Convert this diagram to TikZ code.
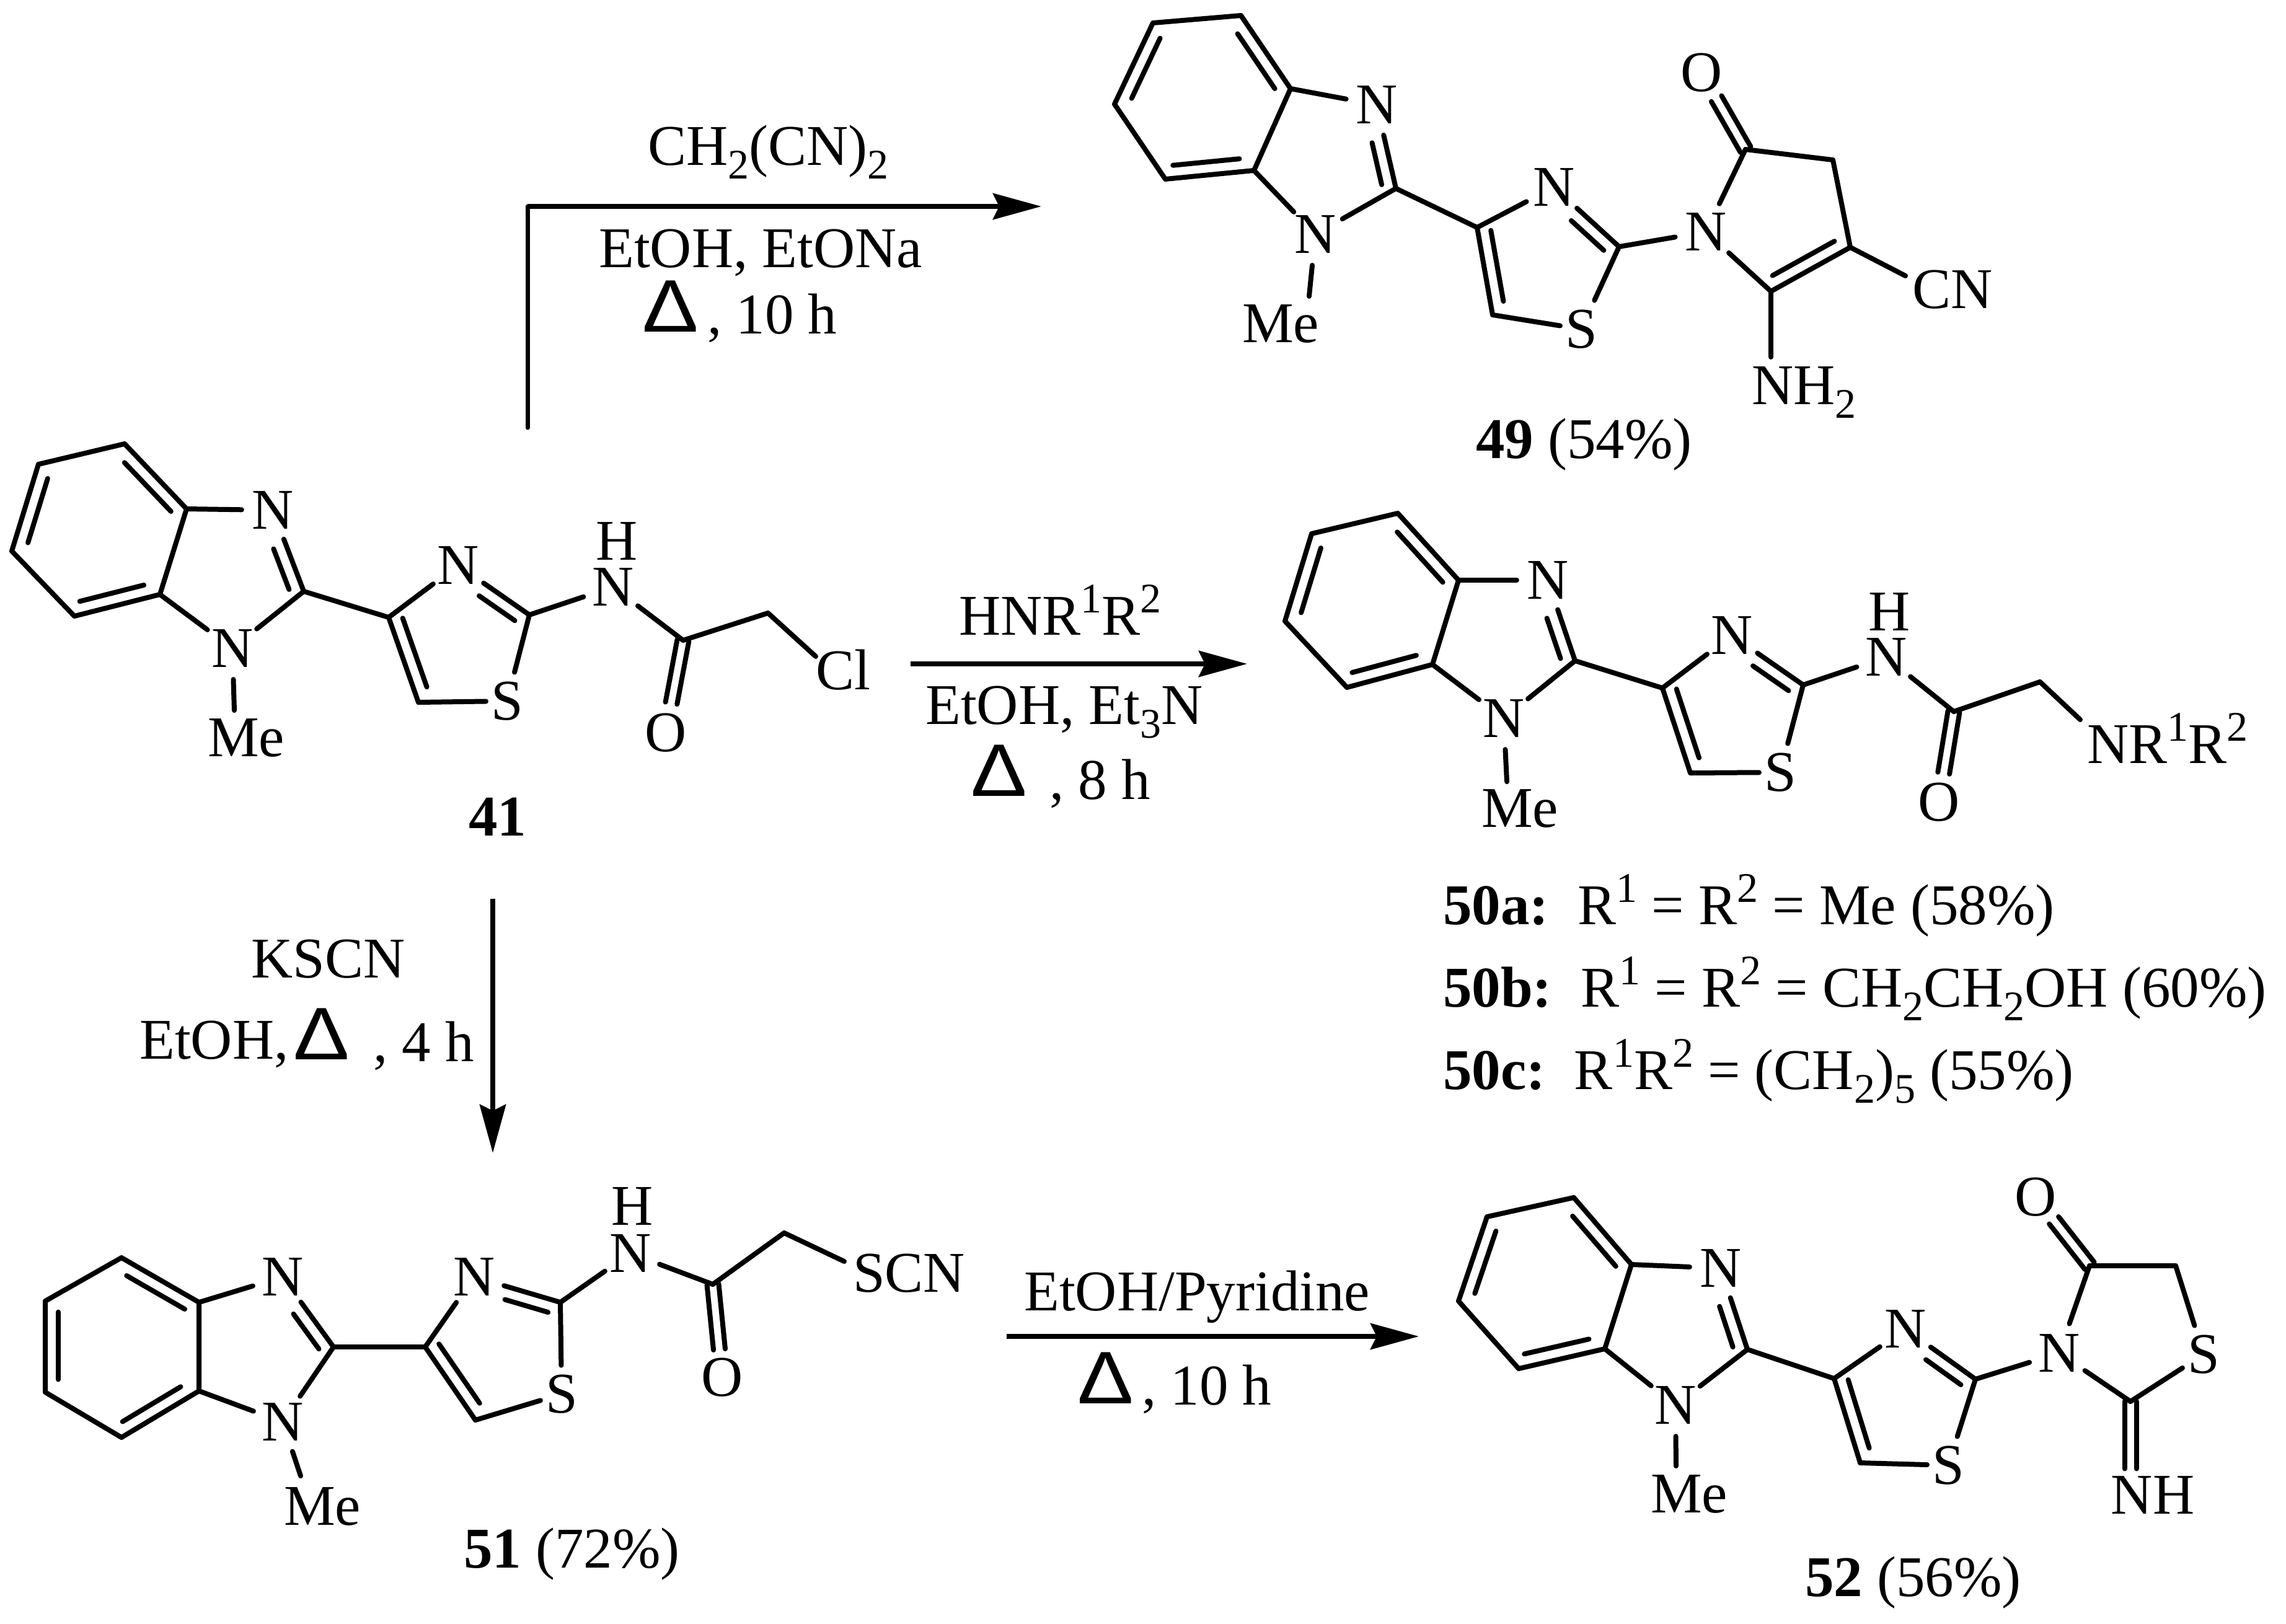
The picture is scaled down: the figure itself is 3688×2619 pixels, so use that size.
\documentclass[tikz,border=0pt]{standalone}
\usepackage{fontspec}
\setmainfont{Liberation Serif}
\newfontfamily\deltafont{Liberation Sans}
\usetikzlibrary{calc,arrows.meta}
\newcommand\lab{\fontsize{93}{93}\selectfont}
\newcommand\sbs[1]{\raisebox{-22pt}{\fontsize{68}{68}\selectfont #1}}
\newcommand\sps[1]{\raisebox{36pt}{\fontsize{68}{68}\selectfont #1}}
\newcommand\dlt{\scalebox{1.13}[1]{\deltafont\fontsize{120}{120}\selectfont Δ}}
\tikzset{
  bond/.style={line width=8pt,line cap=round,line join=round,black},
  atom/.style={circle,inner sep=0pt,minimum size=100pt,font=\lab},
  satom/.style={rectangle,inner xsep=8pt,inner ysep=15pt,font=\lab},
  mel/.style={inner sep=0pt,font=\lab},
  txt/.style={inner sep=0pt,anchor=base west,font=\lab},
  rxn/.style={line width=8pt,-{Stealth[length=78pt,width=42pt,inset=10pt]}},
  rxnline/.style={line width=7pt,line cap=round},
}
% inner (shorter) line of a ring double bond; +90 side of a->b
\newcommand\inb[4]{\draw[bond] ($(#1)!#3!(#2)!21pt!90:(#2)$) -- ($(#1)!#4!(#2)!21pt!90:(#2)$);}
% symmetric double bond from atom a toward atom b
\newcommand\dbs[3]{%
  \draw[bond] ($(#1)!9.5pt!90:(#2)$) -- ($(#1)!#3!(#2)!9.5pt!90:(#2)$);
  \draw[bond] ($(#1)!9.5pt!-90:(#2)$) -- ($(#1)!#3!(#2)!9.5pt!-90:(#2)$);}
% ring carbons of the benzene part
\newcommand\benz[7]{%
  \coordinate (#1a) at (#2);\coordinate (#1b) at (#3);\coordinate (#1c) at (#4);
  \coordinate (#1d) at (#5);\coordinate (#1e) at (#6);\coordinate (#1f) at (#7);}
% p, n3, c2, n1, c4, nt, c5, s, c2'
\newcommand\hetero[9]{%
  \node[atom] (#1n3) at (#2) {N};
  \coordinate (#1c2) at (#3);
  \node[atom] (#1n1) at (#4) {N};
  \coordinate (#1c4) at (#5);
  \node[atom] (#1nt) at (#6) {N};
  \coordinate (#1c5) at (#7);
  \node[satom] (#1s) at (#8) {S};
  \coordinate (#1c2p) at (#9);}
% bonds of the shared benzimidazolyl-thiazole core; arg 2 label centre, arg 3 bond end
\newcommand\corebonds[3]{%
  \node[mel] (#1me) at (#2) {Me};
  \coordinate (#1meb) at (#3);
  \draw[bond] (#1a) -- (#1b) -- (#1c) -- (#1d) -- (#1e) -- (#1f) -- cycle;
  \inb{#1f}{#1a}{.1}{.85}\inb{#1b}{#1c}{.12}{.86}\inb{#1d}{#1e}{.1}{.85}
  \draw[bond] (#1f) -- (#1n3);
  \draw[bond] (#1e) -- (#1n1);
  \draw[bond] (#1c2) -- (#1n3);
  \inb{#1c2}{#1n3}{.08}{.58}
  \draw[bond] (#1c2) -- (#1n1);
  \draw[bond] (#1n1) -- (#1meb);
  \draw[bond] (#1c2) -- (#1c4);
  \draw[bond] (#1c4) -- (#1nt);
  \draw[bond] (#1c4) -- (#1c5);
  \inb{#1c4}{#1c5}{.06}{.87}
  \draw[bond] (#1c5) -- (#1s);
  \draw[bond] (#1c2p) -- (#1s);
  \draw[bond] (#1c2p) -- (#1nt);
  \inb{#1c2p}{#1nt}{.1}{.6}}
\begin{document}
\begin{tikzpicture}[x=1pt,y=-1pt]
\useasboundingbox (0,0) rectangle (3688,2619);
\fill[white] (0,0) rectangle (3688,2619);

% ---------- 41 ----------
\benz{A}{201,716}{62,749}{19,889}{120,994}{258,959}{301,821}
\hetero{A}{440,823}{490,954}{375,1046}{627,996}{739,912}{675,1133}{818,1131}{854,992}
\corebonds{A}{397,1190}{378,1146}
\node[atom] (Anh) at (989,947) {N};
\node[mel] (Ah) at (995,873) {H};
\coordinate (Aco) at (1102,1033);
\coordinate (Ach) at (1239,989);
\node[atom] (Ao) at (1074,1182) {O};
\node[txt] (Acl) at (1316,1112) {Cl};
\coordinate (Aclb) at (1316,1059);
\draw[bond] (Ac2p) -- (Anh);
\draw[bond] (Anh) -- (Aco);
\draw[bond] (Aco) -- (Ach) -- (Aclb);
\dbs{Aco}{Ao}{.68}
\node[txt,font=\lab\bfseries] (Al) at (756,1348) {41};

% ---------- 49 ----------
\benz{B}{2002,25}{1860,37}{1798,168}{1880,289}{2023,275}{2082,143}
\hetero{B}{2221,169}{2252,304}{2122,378}{2383,367}{2507,302}{2408,508}{2551,531}{2612,398}
\corebonds{B}{2066,522}{2112,478}
\node[atom] (Bn) at (2752,374) {N};
\coordinate (Bco) at (2816,241);
\coordinate (Bch) at (2957,258);
\coordinate (Bc4) at (2985,399);
\coordinate (Bc3) at (2857,470);
\node[atom] (Bo) at (2745,117) {O};
\node[txt] (Bcn) at (3085,497) {CN};
\coordinate (Bcnb) at (3074,445);
\node[txt] (Bnh) at (2826,652) {NH\sbs{2}};
\coordinate (Bnhb) at (2857,576);
\draw[bond] (Bc2p) -- (Bn);
\draw[bond] (Bn) -- (Bco);
\draw[bond] (Bco) -- (Bch) -- (Bc4) -- (Bc3);
\draw[bond] (Bc3) -- (Bn);
\inb{Bc3}{Bc4}{.1}{.88}
\draw[bond] (Bc4) -- (Bcnb);
\draw[bond] (Bc3) -- (Bnhb);
\dbs{Bco}{Bo}{.66}
\node[txt] (Bl) at (2381,739) {\textbf{49} (54\%)};

% ---------- 50 ----------
\benz{C}{2255,828}{2116,861}{2073,1002}{2173,1109}{2311,1072}{2353,936}
\hetero{C}{2497,936}{2541,1066}{2426,1159}{2682,1110}{2794,1025}{2727,1247}{2872,1246}{2909,1105}
\corebonds{C}{2452,1304}{2431,1261}
\node[atom] (Cnh) at (3043,1060) {N};
\node[mel] (Ch) at (3048,987) {H};
\coordinate (Cco) at (3152,1148);
\coordinate (Cch) at (3291,1100);
\node[atom] (Co) at (3128,1294) {O};
\node[txt] (Cnr) at (3367,1231) {NR\sps{1}R\sps{2}};
\coordinate (Cnrb) at (3356,1161);
\draw[bond] (Cc2p) -- (Cnh);
\draw[bond] (Cnh) -- (Cco);
\draw[bond] (Cco) -- (Cch) -- (Cnrb);
\dbs{Cco}{Co}{.68}
\node[txt] (Cla) at (2328,1491) {\textbf{50a:}\ \ R\sps{1} = R\sps{2} = Me (58\%)};
\node[txt] (Clb) at (2328,1624) {\textbf{50b:}\ \ R\sps{1} = R\sps{2} = CH\sbs{2}CH\sbs{2}OH (60\%)};
\node[txt] (Clc) at (2328,1757) {\textbf{50c:}\ \ R\sps{1}R\sps{2} = (CH\sbs{2})\sbs{5} (55\%)};

% ---------- 51 ----------
\benz{D}{196,2029}{73,2099}{73,2246}{196,2319}{321,2244}{321,2101}
\hetero{D}{456,2060}{538,2173}{456,2294}{686,2173}{765,2060}{767,2291}{906,2249}{904,2101}
\corebonds{D}{520,2430}{485,2381}
\node[atom] (Dnh) at (1017,2022) {N};
\node[mel] (Dh) at (1020,1946) {H};
\coordinate (Dco) at (1150,2072);
\coordinate (Dch) at (1265,1989);
\node[atom] (Do) at (1165,2222) {O};
\node[txt] (Dscn) at (1376,2084) {SCN};
\coordinate (Dscnb) at (1362,2035);
\draw[bond] (Dc2p) -- (Dnh);
\draw[bond] (Dnh) -- (Dco);
\draw[bond] (Dco) -- (Dch) -- (Dscnb);
\dbs{Dco}{Do}{.7}
\node[txt] (Dl) at (748,2529) {\textbf{51} (72\%)};

% ---------- 52 ----------
\benz{E}{2539,1932}{2399,1963}{2353,2099}{2450,2208}{2589,2176}{2632,2040}
\hetero{E}{2776,2046}{2819,2177}{2703,2267}{2959,2224}{3074,2144}{3001,2360}{3143,2364}{3187,2225}
\corebonds{E}{2725,2410}{2704,2365}
\node[atom] (En) at (3322,2183) {N};
\coordinate (Eco) at (3371,2042);
\coordinate (Ech) at (3510,2042);
\node[satom] (Esp) at (3555,2185) {S};
\coordinate (Ecn) at (3437,2261);
\node[atom] (Eo) at (3284,1931) {O};
\node[mel] (Enh) at (3473,2412) {NH};
\coordinate (Enb) at (3437,2400);
\draw[bond] (Ec2p) -- (En);
\draw[bond] (En) -- (Eco);
\draw[bond] (Eco) -- (Ech) -- (Esp);
\draw[bond] (Esp) -- (Ecn);
\draw[bond] (Ecn) -- (En);
\dbs{Eco}{Eo}{.66}
\dbs{Ecn}{Enb}{.78}
\node[txt] (El) at (2912,2575) {\textbf{52} (56\%)};

% ---------- reaction arrows ----------
\coordinate (r1s) at (851,690);
\coordinate (r1c) at (851,333);
\coordinate (r1e) at (1680,333);
\draw[rxnline] (r1s) -- (r1c);
\draw[rxn] (r1c) -- (r1e);
\coordinate (r2s) at (1469,1071);
\coordinate (r2e) at (2012,1071);
\draw[rxn] (r2s) -- (r2e);
\coordinate (r3s) at (795,1450);
\coordinate (r3e) at (795,1860);
\draw[rxn] (r3s) -- (r3e);
\coordinate (r4s) at (1624,2156);
\coordinate (r4e) at (2289,2156);
\draw[rxn] (r4s) -- (r4e);

% ---------- reagents ----------
\node[txt] (t1a) at (1045,266) {CH\sbs{2}(CN)\sbs{2}};
\node[txt] (t1b) at (966,431) {EtOH, EtONa};
\node[txt] (t1d) at (1036,535) {\dlt};
\node[txt] (t1c) at (1141,538) {, 10 h};
\node[txt] (t2a) at (1547,1024) {HNR\sps{1}R\sps{2}};
\node[txt] (t2b) at (1493,1168) {EtOH, Et\sbs{3}N};
\node[txt] (t2d) at (1566,1284) {\dlt};
\node[txt] (t2c) at (1693,1289) {, 8 h};
\node[txt] (t3a) at (405,1577) {KSCN};
\node[txt] (t3b) at (225,1708) {EtOH,};
\node[txt] (t3d) at (473,1709) {\dlt};
\node[txt] (t3c) at (602,1712) {, 4 h};
\node[txt] (t4a) at (1652,2114) {EtOH/Pyridine};
\node[txt] (t4d) at (1738,2264) {\dlt};
\node[txt] (t4c) at (1842,2266) {, 10 h};
\end{tikzpicture}
\end{document}
